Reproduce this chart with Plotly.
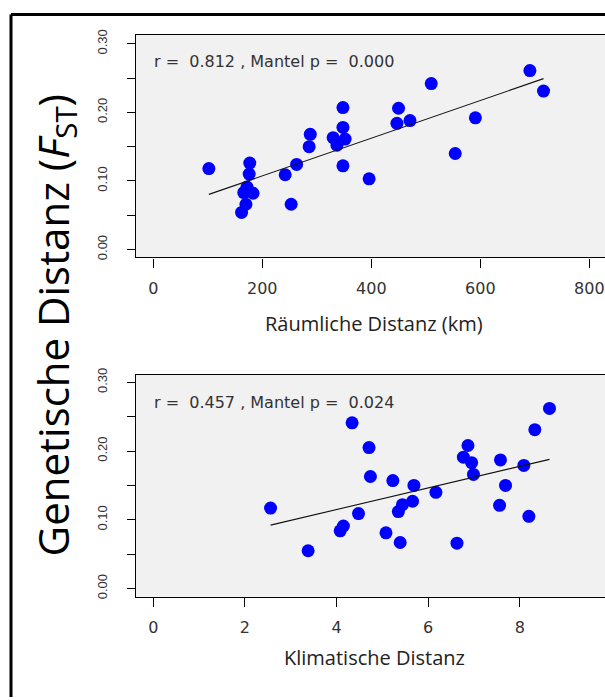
import numpy as np
import plotly.graph_objects as go

# ---------------- data ----------------
spatial_km = [102, 177, 176, 172, 183, 166, 170, 162, 242, 263, 253, 288, 286,
              348, 348, 330, 352, 337, 348, 396, 450, 447, 471, 510, 554, 591,
              691, 716]
fst_spatial = [0.118, 0.126, 0.110, 0.091, 0.082, 0.083, 0.066, 0.054, 0.109,
               0.124, 0.066, 0.168, 0.150, 0.207, 0.178, 0.163, 0.161, 0.152,
               0.122, 0.103, 0.206, 0.184, 0.188, 0.242, 0.140, 0.192, 0.261,
               0.231]

climatic = [2.56, 3.38, 4.15, 4.08, 4.34, 4.48, 4.71, 4.74, 5.08, 5.23, 5.39,
            5.35, 5.44, 5.66, 5.69, 6.17, 6.63, 6.77, 6.87, 6.95, 6.99, 7.56,
            7.58, 7.69, 8.09, 8.20, 8.33, 8.65]
fst_climatic = [0.117, 0.055, 0.091, 0.084, 0.241, 0.109, 0.205, 0.163, 0.081,
                0.157, 0.067, 0.112, 0.122, 0.127, 0.150, 0.140, 0.066, 0.191,
                0.208, 0.183, 0.166, 0.121, 0.187, 0.150, 0.179, 0.105, 0.231,
                0.262]

# regression lines as drawn in the reference (intercept, slope)
fit_spatial = (0.0523, 0.000275)
fit_climatic = (0.0521, 0.0157)

stats_spatial = ("0.812", "0.000")
stats_climatic = ("0.457", "0.024")

x1_ticks = [0, 200, 400, 600, 800]
x2_ticks = [0, 2, 4, 6, 8]
y_ticks = [0.00, 0.10, 0.20, 0.30]
y_ticktext = ["0.00", "0.10", "0.20", "0.30"]
y_minor_step = 0.05

x1_title = "Räumliche Distanz (km)"
x2_title = "Klimatische Distanz"
y_title = "Genetische Distanz (<i>F</i><sub>ST</sub>)"

# ---------------- figure ----------------
W, H = 605, 700
def px(x):
    return x / W
def py(y):
    return 1 - y / H

fig = go.Figure()

def add_panel(xs, ys, fit, xa, ya):
    fig.add_trace(go.Scatter(
        x=xs, y=ys, mode="markers", xaxis=xa, yaxis=ya,
        marker=dict(color="#0000FF", size=13, line=dict(width=0)),
        hoverinfo="skip", showlegend=False))
    icpt, slope = fit
    lx = np.array([min(xs), max(xs)])
    fig.add_trace(go.Scatter(
        x=lx, y=icpt + slope * lx, mode="lines", xaxis=xa, yaxis=ya,
        line=dict(color="#111111", width=1.1),
        hoverinfo="skip", showlegend=False))

add_panel(spatial_km, fst_spatial, fit_spatial, "x", "y")
add_panel(climatic, fst_climatic, fit_climatic, "x2", "y2")

tickfont_x = dict(family="DejaVu Sans", size=16, color="#333333")
tickfont_y = dict(family="Liberation Sans", size=13, color="#333333")

common_x = dict(showgrid=False, zeroline=False, showline=True, linecolor="black",
                linewidth=1.3, mirror=True, ticks="outside", ticklen=9,
                tickcolor="black", tickwidth=1.3, tickfont=tickfont_x,
                ticklabelstandoff=7)
common_y = dict(showgrid=False, zeroline=False, showline=True, linecolor="black",
                linewidth=1.3, mirror=False, ticks="outside", ticklen=8,
                tickcolor="black", tickwidth=1.3, tickfont=tickfont_y,
                tickvals=y_ticks, ticktext=y_ticktext, tickangle=-90,
                ticklabelstandoff=15,
                minor=dict(dtick=y_minor_step, tick0=0, ticks="outside", ticklen=8,
                           tickcolor="black", tickwidth=1.3, showgrid=False))

fig.update_layout(
    width=W, height=H,
    margin=dict(l=0, r=0, t=0, b=0),
    paper_bgcolor="white",
    plot_bgcolor="#F1F1F1",
    showlegend=False,
    xaxis=dict(domain=[px(136), 1.0], range=[-31.7, 828.8], tickvals=x1_ticks,
               anchor="y", **common_x),
    yaxis=dict(domain=[py(254), py(28)], range=[-0.0115, 0.3134], anchor="x",
               **common_y),
    xaxis2=dict(domain=[px(136), 1.0], range=[-0.378, 9.862], tickvals=x2_ticks,
                anchor="y2", **common_x),
    yaxis2=dict(domain=[py(598.3), py(373.3)], range=[-0.0119, 0.3106],
                anchor="x2", **common_y),
)

NB = "\u00a0"
def stat_text(r, p):
    return f"r ={NB} {r} , Mantel p ={NB} {p}"

annots = [
    dict(text=stat_text(*stats_spatial), x=px(152), y=py(55), xanchor="left",
         yanchor="middle", font=dict(family="DejaVu Sans", size=16, color="#333333")),
    dict(text=stat_text(*stats_climatic), x=px(152), y=py(401), xanchor="left",
         yanchor="middle", font=dict(family="DejaVu Sans", size=16, color="#333333")),
    dict(text=x1_title, x=px(374), y=py(321), xanchor="center", yanchor="middle",
         font=dict(family="Open Sans", size=20, color="#222222")),
    dict(text=x2_title, x=px(374), y=py(660), xanchor="center", yanchor="middle",
         font=dict(family="Open Sans", size=20, color="#222222")),
    dict(text=y_title, x=px(55), y=py(323), xanchor="center", yanchor="middle",
         textangle=-90, font=dict(family="Open Sans", size=42, color="black")),
]
for a in annots:
    a.update(xref="paper", yref="paper", showarrow=False)
fig.update_layout(annotations=annots)

# outer frame (left and top edges visible)
fig.add_shape(type="line", xref="paper", yref="paper", x0=px(11), x1=px(11),
              y0=0, y1=py(7.5), line=dict(color="black", width=3))
fig.add_shape(type="line", xref="paper", yref="paper", x0=px(11), x1=1,
              y0=py(7.5), y1=py(7.5), line=dict(color="black", width=3))

fig.write_html("out.html",
               config={"displayModeBar": False},
               post_script="document.body.style.margin='0';"
                           "document.body.style.overflow='hidden';")
